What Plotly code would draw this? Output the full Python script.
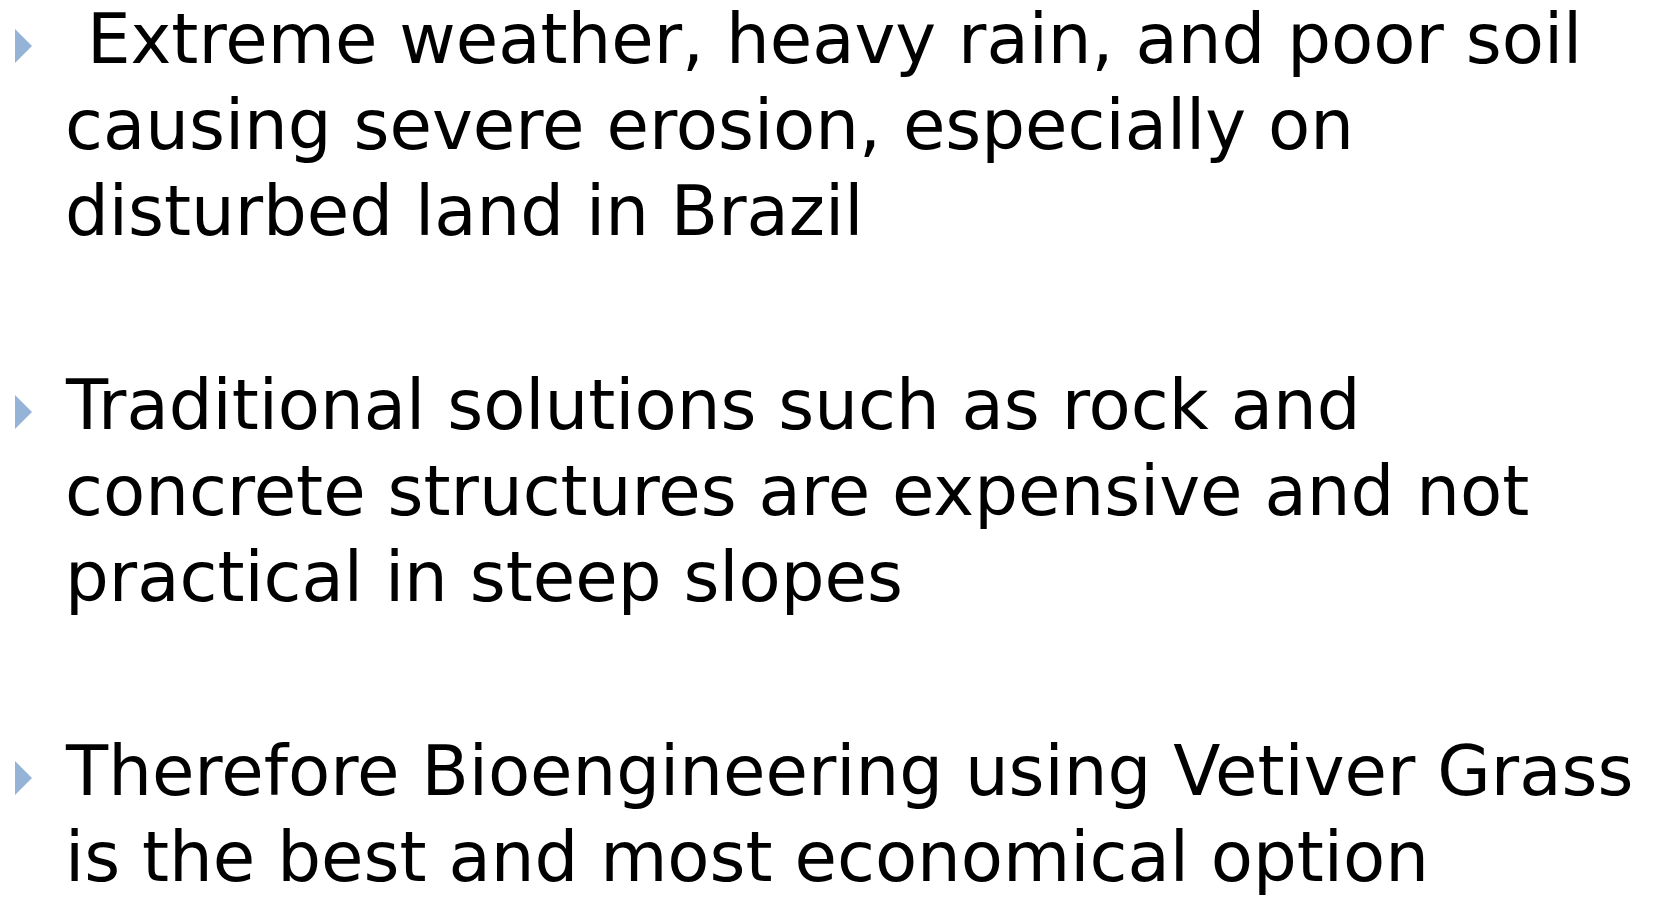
import plotly.graph_objects as go

# Slide content (text lines grouped by bullet)
bullet_1 = [" Extreme weather, heavy rain, and poor soil",
            "causing severe erosion, especially on",
            "disturbed land in Brazil"]
bullet_2 = ["Traditional solutions such as rock and",
            "concrete structures are expensive and not",
            "practical in steep slopes"]
bullet_3 = ["Therefore Bioengineering using Vetiver Grass",
            "is the best and most economical option"]
paragraphs = [bullet_1, bullet_2, bullet_3]

W, H = 1656, 897
FONT = "DejaVu Sans"
FS = 69
TEXT_X = 63
FIRST_BASELINE = 65
LINE_STEP = 86
PARA_STEP = 194
BASE_TO_BOTTOM = 0.236 * FS        # descent below baseline
BULLET_X0, BULLET_X1 = 15, 32      # bullet triangle extent (px)
BULLET_HALF_H = 17
BULLET_RAISE = 19                  # bullet centre above baseline
BULLET_COLOR = "#95B3D7"


def px(x):
    return x / W


def py(y):
    return 1 - y / H


annotations = []
shapes = []
base = FIRST_BASELINE
for p in paragraphs:
    cy = base - BULLET_RAISE
    shapes.append(dict(
        type="path", xref="paper", yref="paper",
        path=(f"M{px(BULLET_X0)},{py(cy - BULLET_HALF_H)} "
              f"L{px(BULLET_X1)},{py(cy)} "
              f"L{px(BULLET_X0)},{py(cy + BULLET_HALF_H)} Z"),
        fillcolor=BULLET_COLOR, line=dict(width=0)))
    for i, line in enumerate(p):
        b = base + i * LINE_STEP
        txt = line.replace(" ", "&nbsp;", 1) if line.startswith(" ") else line
        annotations.append(dict(
            x=px(TEXT_X), y=py(b + BASE_TO_BOTTOM), xref="paper", yref="paper",
            xanchor="left", yanchor="bottom", showarrow=False,
            text=txt, font=dict(family=FONT, size=FS, color="#000000"),
            align="left"))
    base = base + (len(p) - 1) * LINE_STEP + PARA_STEP

fig = go.Figure()
fig.update_layout(
    width=W, height=H, margin=dict(l=0, r=0, t=0, b=0),
    paper_bgcolor="white", plot_bgcolor="white",
    xaxis=dict(visible=False, fixedrange=True),
    yaxis=dict(visible=False, fixedrange=True),
    annotations=annotations, shapes=shapes, showlegend=False)

fig.write_html("out.html", config={"displayModeBar": False},
               post_script="document.body.style.margin='0';"
                           "document.body.style.overflow='hidden';")
